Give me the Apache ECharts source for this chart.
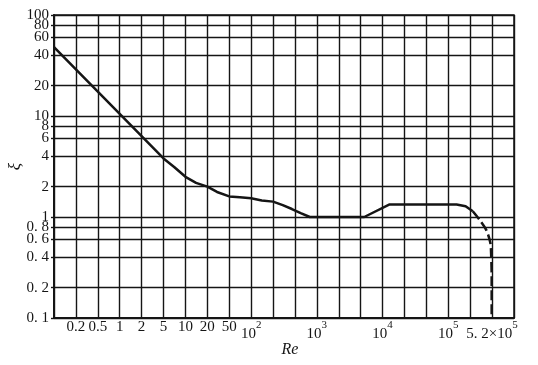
<!DOCTYPE html>
<html>
<head>
<meta charset="utf-8">
<script src="https://cdn.jsdelivr.net/npm/echarts@6/dist/echarts.min.js"></script>
<style>
html, body { margin: 0; padding: 0; background: #fff; }
#chart { width: 538px; height: 365px; }
</style>
</head>
<body>
<div id="chart"></div>
<script>
// Re grid lines (evenly spaced in the original figure, 1-2-5 steps)
const reTicks = [0.1, 0.2, 0.5, 1, 2, 5, 10, 20, 50, 1e2, 2e2, 5e2, 1e3, 2e3, 5e3, 1e4, 2e4, 5e4, 1e5, 2e5, 5.2e5];
const reLabels = ['', '0.2', '0.5', '1', '2', '5', '10', '20', '50', '10^2', '', '', '10^3', '', '', '10^4', '', '', '10^5', '', '5. 2×10^5'];

// xi grid lines (log)
const xiTicks = [0.1, 0.2, 0.4, 0.6, 0.8, 1, 2, 4, 6, 8, 10, 20, 40, 60, 80, 100];
const xiLabels = ['0. 1', '0. 2', '0. 4', '0. 6', '0. 8', '1', '2', '4', '6', '8', '10', '20', '40', '60', '80', '100'];

// curve
const reSolid = [0.1, 5, 7, 10, 14, 20, 30, 50, 70, 100, 140, 200, 300, 440, 600, 800, 5600, 12500, 130000, 173000, 224000];
const xiSolid = [48, 3.8, 3.13, 2.5, 2.18, 2.0, 1.77, 1.6, 1.57, 1.53, 1.46, 1.42, 1.31, 1.2, 1.09, 1.0, 1.0, 1.33, 1.33, 1.28, 1.14];
const reDashed = [224000, 300000, 400000, 480000, 500000, 510000, 510000];
const xiDashed = [1.14, 0.94, 0.75, 0.56, 0.41, 0.25, 0.1];

const FONT = 'Liberation Serif';
const INK = '#151515';

// position of an Re value along the evenly spaced grid
function rePos(re) {
  for (let i = 0; i < reTicks.length - 1; i++) {
    if (re <= reTicks[i + 1]) {
      return i + Math.log(re / reTicks[i]) / Math.log(reTicks[i + 1] / reTicks[i]);
    }
  }
  return reTicks.length - 1;
}

function toSeries(res, xis) {
  return res.map((re, i) => [rePos(re), xis[i]]);
}

function fmtRe(v) {
  const s = reLabels[Math.round(v)] || '';
  const m = s.match(/^(.*)\^(\d+)$/);
  return m ? '{n|' + m[1] + '}{s|' + m[2] + '}' : s;
}

function fmtXi(v) {
  const i = xiTicks.findIndex(t => Math.abs(t - v) / t < 1e-6);
  return i < 0 ? '' : xiLabels[i];
}

// the labels sit close together, so they are split over two copies of the axis
// (alternate ticks) to stop echarts from dropping the end labels' neighbours
function yLabels(part) {
  return {
    margin: 5,
    customValues: xiTicks.filter((t, i) => i % 2 === part),
    showMinLabel: true,
    showMaxLabel: true,
    hideOverlap: false,
    fontFamily: FONT, fontSize: 15, color: INK,
    formatter: fmtXi
  };
}

const chart = echarts.init(document.getElementById('chart'));
chart.setOption({
  animation: false,
  backgroundColor: '#fff',
  grid: {
    left: 54, right: 24, top: 15, bottom: 47,
    outerBoundsMode: 'none',
    containLabel: false,
    show: true, borderColor: INK, borderWidth: 1.5
  },
  xAxis: {
    type: 'value',
    min: 0,
    max: reTicks.length,
    interval: 1,
    name: 'Re',
    nameLocation: 'middle',
    nameGap: 24,
    nameMoveOverlap: false,
    nameTextStyle: { fontFamily: FONT, fontStyle: 'italic', fontSize: 16, color: INK, padding: [0, 0, 0, 12] },
    axisLine: { show: true, lineStyle: { color: INK, width: 2 } },
    axisTick: { show: false },
    axisLabel: {
      margin: 2,
      fontFamily: FONT, fontSize: 15, color: INK,
      formatter: fmtRe,
      rich: {
        n: { fontFamily: FONT, fontSize: 15, color: INK, lineHeight: 22, verticalAlign: 'bottom' },
        s: { fontFamily: FONT, fontSize: 11, color: INK, verticalAlign: 'top' }
      }
    },
    splitLine: { show: true, lineStyle: { color: INK, width: 1.4 } }
  },
  yAxis: [
    {
      type: 'log',
      min: 0.1,
      max: 100,
      name: 'ξ',
      nameLocation: 'middle',
      nameRotate: 90,
      nameGap: 30,
      nameMoveOverlap: false,
      nameTextStyle: { fontFamily: FONT, fontStyle: 'italic', fontSize: 17, color: INK },
      axisLine: { show: true, lineStyle: { color: INK, width: 2 } },
      axisTick: { show: true, length: 3, customValues: xiTicks, lineStyle: { color: INK, width: 1.4 } },
      axisLabel: yLabels(0),
      splitLine: { show: true, customValues: xiTicks, lineStyle: { color: INK, width: 1.4 } }
    },
    {
      type: 'log',
      min: 0.1,
      max: 100,
      position: 'left',
      axisLine: { show: false },
      axisTick: { show: false },
      splitLine: { show: false },
      axisLabel: yLabels(1)
    }
  ],
  series: [
    {
      type: 'line',
      data: toSeries(reSolid, xiSolid),
      showSymbol: false,
      smooth: false,
      lineStyle: { color: INK, width: 2.5, join: 'round' }
    },
    {
      type: 'line',
      data: toSeries(reDashed, xiDashed),
      showSymbol: false,
      smooth: 0.3,
      lineStyle: { color: INK, width: 2.5, type: [10, 4] }
    }
  ]
});
</script>
</body>
</html>
